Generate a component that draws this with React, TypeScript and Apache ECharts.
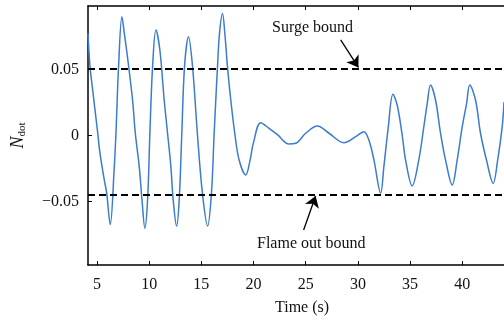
import React, { useEffect, useRef } from "react";
import * as echarts from "echarts";

// Sampled N_dot response over time (s)
const timeS = [
  4.14, 4.33, 4.59, 5.07, 5.29, 5.7, 5.93, 6.27, 6.66, 6.82, 7.07, 7.39, 7.62, 7.94, 8.41, 8.67, 9.05, 9.31, 9.59,
  9.85, 10.07, 10.33, 10.65, 11.03, 11.44, 11.76, 12.08, 12.3, 12.63, 12.88, 13.13, 13.39, 13.77, 14.16, 14.63,
  15.1, 15.6, 15.97, 16.23, 16.55, 16.74, 17.03, 17.25, 17.5, 17.82, 18.2, 18.62, 19.26, 19.67, 19.99, 20.69,
  21.49, 22.29, 23.4, 24.04, 25.0, 26.12, 27.23, 28.67, 29.78, 30.58, 31.06, 31.54, 32.18, 32.49, 32.9, 33.36,
  33.77, 34.25, 34.57, 35.2, 35.84, 36.32, 36.64, 36.96, 37.44, 37.92, 38.4, 39.04, 39.52, 40.0, 40.41, 40.72,
  41.27, 41.75, 42.32, 42.96, 43.4, 43.83, 44.0,
];
const nDot = [
  0.077, 0.052, 0.034, 0.0015, -0.014, -0.034, -0.044, -0.068, -0.024, 0.0015, 0.052, 0.0896, 0.077, 0.058, 0.0265,
  0.0015, -0.024, -0.049, -0.0706, -0.049, 0.0015, 0.052, 0.0795, 0.064, 0.0265, 0.0015, -0.024, -0.049, -0.069,
  -0.049, 0.0015, 0.052, 0.0745, 0.0515, 0.0, -0.044, -0.069, -0.044, 0.0015, 0.052, 0.077, 0.092, 0.077, 0.052,
  0.0265, 0.0015, -0.019, -0.0303, -0.019, -0.006, 0.0093, 0.005, 0.0002, -0.0068, -0.0063, 0.0013, 0.0068,
  0.0013, -0.0058, -0.0013, 0.0025, -0.004, -0.019, -0.044, -0.024, 0.005, 0.0308, 0.0225, -0.0004, -0.019,
  -0.0386, -0.0187, 0.0063, 0.0235, 0.0379, 0.0265, 0.0013, -0.019, -0.0379, -0.0187, 0.0063, 0.0235, 0.0379,
  0.0265, 0.0013, -0.019, -0.0366, -0.0187, 0.0063, 0.025,
];

const xTicks = [5, 10, 15, 20, 25, 30, 35, 40];
const yTicks = [-0.05, 0, 0.05];
const surgeBound = 0.05;
const flameOutBound = -0.045;

const serif = "Liberation Serif";

export default function App() {
  const ref = useRef<HTMLDivElement>(null);

  useEffect(() => {
    if (!ref.current) return;
    const chart = echarts.init(ref.current, null, { renderer: "svg" });
    const xRange = { min: 4.14, max: 44.0 };
    const axisLine = { show: true, onZero: false, lineStyle: { color: "#000", width: 1.5 } };
    const dashed = { color: "#000", type: [7, 4], width: 2 };
    const solid = { color: "#000", type: "solid", width: 1.3 };
    chart.setOption({
      animation: false,
      grid: { left: 87, right: 0, top: 6, bottom: 56 },
      xAxis: [
        {
          type: "value",
          position: "bottom",
          ...xRange,
          axisLine,
          splitLine: { show: false },
          axisTick: { inside: true, length: 4, customValues: xTicks, lineStyle: { color: "#000" } },
          axisLabel: {
            customValues: xTicks,
            margin: 10,
            color: "#111",
            fontFamily: serif,
            fontSize: 16,
          },
        },
        {
          type: "value",
          position: "top",
          ...xRange,
          axisLine,
          splitLine: { show: false },
          axisTick: { inside: true, length: 4, customValues: xTicks, lineStyle: { color: "#000" } },
          axisLabel: { show: false },
        },
      ],
      yAxis: {
        type: "value",
        min: -0.0985,
        max: 0.0977,
        axisLine,
        splitLine: { show: false },
        axisTick: { inside: true, length: 4, customValues: yTicks, lineStyle: { color: "#000" } },
        axisLabel: {
          customValues: yTicks,
          margin: 9,
          color: "#111",
          fontFamily: serif,
          fontSize: 16,
          formatter: (v: number) => (v === 0 ? "0" : v < 0 ? "\u2212" + Math.abs(v).toFixed(2) : v.toFixed(2)),
        },
        name: "{n|N}{s|dot}",
        nameLocation: "middle",
        nameRotate: 90,
        nameGap: 62,
        nameTextStyle: {
          rich: {
            n: { fontFamily: serif, fontStyle: "italic", fontSize: 18, color: "#111" },
            s: { fontFamily: serif, fontSize: 11, color: "#111", verticalAlign: "bottom", padding: [6, 0, 0, 0] },
          },
        },
      },
      series: [
        {
          type: "line",
          data: timeS.map((t, i) => [t, nDot[i]]),
          showSymbol: false,
          smooth: 0.35,
          lineStyle: { color: "#3b7ccc", width: 1.5 },
          markLine: {
            silent: true,
            symbol: ["none", "arrow"],
            symbolSize: [1, 11],
            precision: 4,
            label: { show: false },
            itemStyle: { color: "#000" },
            data: [
              [
                { coord: [4.14, surgeBound], symbol: "none", lineStyle: dashed },
                { coord: [44.0, surgeBound], symbol: "none" },
              ],
              [
                { coord: [4.14, flameOutBound], symbol: "none", lineStyle: dashed },
                { coord: [44.0, flameOutBound], symbol: "none" },
              ],
              [
                { coord: [28.35, 0.072], symbol: "none", lineStyle: solid },
                { coord: [30.05, 0.0512], symbol: "arrow", symbolSize: 11 },
              ],
              [
                { coord: [24.8, -0.072], symbol: "none", lineStyle: solid },
                { coord: [25.95, -0.0462], symbol: "arrow", symbolSize: 11 },
              ],
            ],
          },
        },
      ],
      graphic: [
        {
          type: "text",
          left: 272,
          top: 18,
          style: { text: "Surge bound", font: `16px "${serif}"`, fill: "#111" },
        },
        {
          type: "text",
          left: 257,
          top: 234,
          style: { text: "Flame out bound", font: `16px "${serif}"`, fill: "#111" },
        },
        {
          type: "text",
          left: 275,
          top: 298,
          style: { text: "Time (s)", font: `16px "${serif}"`, fill: "#111" },
        },
      ],
    });
    return () => chart.dispose();
  }, []);

  return <div ref={ref} style={{ position: "fixed", left: 0, top: 0, width: 504, height: 321 }} />;
}
